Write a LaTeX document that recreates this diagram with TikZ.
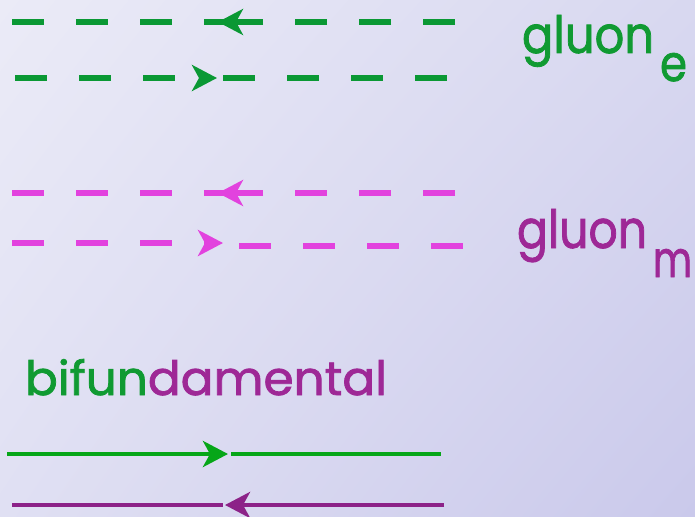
\documentclass[tikz,border=0pt]{standalone}
\usepackage{fontspec}
\setmainfont{Poppins}[FakeBold=1.6]
\usetikzlibrary{arrows.meta,shadings}

% palette
\definecolor{bgtl}{RGB}{235,235,247}
\definecolor{bgtr}{RGB}{216,216,240}
\definecolor{bgbl}{RGB}{224,224,243}
\definecolor{bgbr}{RGB}{202,201,235}
\definecolor{gdashc}{RGB}{10,152,52}
\definecolor{mdashc}{RGB}{226,66,222}
\definecolor{glinec}{RGB}{6,166,24}
\definecolor{plinec}{RGB}{140,34,136}
\definecolor{gtextc}{RGB}{16,154,50}
\definecolor{ptextc}{RGB}{158,40,150}

\tikzset{
  gdash/.style={draw=gdashc, line width=5.5pt, dash pattern=on 32pt off 32pt},
  mdash/.style={draw=mdashc, line width=5.5pt, dash pattern=on 32pt off 32pt},
  gline/.style={draw=glinec, line width=4.5pt},
  pline/.style={draw=plinec, line width=4.5pt},
  midtip/.style={-{Stealth[length=25pt,width=26pt,inset=7pt]}},
  label/.style={anchor=base west, inner sep=0pt, outer sep=0pt},
}

\begin{document}
\begin{tikzpicture}[x=1pt,y=-1pt]
\shade[upper left=bgtl, upper right=bgtr, lower left=bgbl, lower right=bgbr]
  (0,0) rectangle (695,516);
\useasboundingbox (0,0) rectangle (695,516);

% gluon_e: two dashed lines with opposite arrows
\coordinate (e1L) at (12,22);
\coordinate (e1M) at (226,22);
\coordinate (e1T) at (218,22);
\coordinate (e1R) at (455,22);
\draw[gdash] (e1L) -- (e1M);
\draw[gdash, midtip] (e1R) -- (e1T);

\coordinate (e2L) at (15,78);
\coordinate (e2T) at (217,78);
\coordinate (e2M) at (223,78);
\coordinate (e2R) at (447,78);
\draw[gdash, midtip] (e2L) -- (e2T);
\draw[gdash] (e2M) -- (e2R);

% gluon_m: two dashed lines with opposite arrows
\coordinate (m1L) at (12,193);
\coordinate (m1M) at (226,193);
\coordinate (m1T) at (218,193);
\coordinate (m1R) at (455,193);
\draw[mdash] (m1L) -- (m1M);
\draw[mdash, midtip] (m1R) -- (m1T);

\coordinate (m2L) at (12,243);
\coordinate (m2T) at (223,243);
\coordinate (m2M) at (239,246);
\coordinate (m2R) at (463,246);
\draw[mdash, midtip] (m2L) -- (m2T);
\draw[mdash] (m2M) -- (m2R);

% bifundamental: solid lines
\coordinate (b1L) at (7,454);
\coordinate (b1T) at (228,454);
\coordinate (b1M) at (231,454);
\coordinate (b1R) at (441,454);
\draw[gline, midtip] (b1L) -- (b1T);
\draw[gline] (b1M) -- (b1R);

\coordinate (b2L) at (12,505);
\coordinate (b2M) at (223,505);
\coordinate (b2T) at (225,505);
\coordinate (b2R) at (444,505);
\draw[pline] (b2L) -- (b2M);
\draw[pline, midtip] (b2R) -- (b2T);

% labels
\node[label, text=gtextc] (gE) at (522,53) {\resizebox{132pt}{38pt}{gluon}};
\node[label, text=gtextc] (gEsub) at (660,81) {\resizebox{27pt}{28pt}{e}};
\node[label, text=ptextc] (gM) at (517,248) {\resizebox{130pt}{39pt}{gluon}};
\node[label, text=ptextc] (gMsub) at (653,277) {\resizebox{39pt}{28pt}{m}};
\node[label] (bif) at (25,395)
  {\resizebox{362pt}{36pt}{\textcolor{gtextc}{bifun}\textcolor{ptextc}{damental}}};
\end{tikzpicture}
\end{document}
